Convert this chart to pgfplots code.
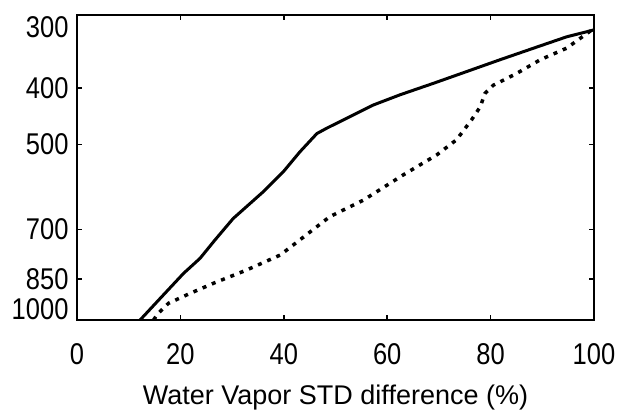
\documentclass[border=0pt]{standalone}
\usepackage{fontspec}
\setmainfont{Liberation Sans}
\newfontfamily\tickfont{Liberation Sans}[FakeStretch=0.85]
\usepackage{pgfplots}
\pgfplotsset{compat=1.18}
\begin{document}
\begin{tikzpicture}
\useasboundingbox (-77pt,-91pt) rectangle (542pt,320pt);
\begin{axis}[
  at={(0,0)}, anchor=south west,
  scale only axis, width=517pt, height=305pt,
  xmin=0, xmax=100, ymin=300, ymax=1000,
  ymode=log, y dir=reverse,
  xtick={0,20,40,60,80,100},
  /pgf/number format/assume math mode=true,
  ytick={300,400,500,700,850,1000},
  yticklabels={\raisebox{-22.7pt}[0pt][0pt]{300},400,500,700,850,\raisebox{0.3pt}[0pt][0pt]{1000}},
  yminorticks=false, minor tick num=0,
  tick align=inside, xtick pos=both, ytick pos=both,
  major tick length=5pt,
  axis line style={line width=2pt},
  every tick/.style={black, line width=1.6pt},
  tick label style={font=\tickfont\fontsize{30}{36}\selectfont},
  xticklabel style={yshift=-20pt},
  yticklabel style={xshift=-5pt},
  xlabel={Water Vapor STD difference (\%)},
  xlabel style={font=\fontsize{27}{32}\selectfont, at={(axis description cs:0.5,0)}, anchor=base, yshift=-84pt},
]
\addplot[black, line width=3pt] coordinates {
(12.2,1000) (16.4,912) (20.6,832) (23.8,784) (26.7,729) (30.2,670) (33.5,631)
(36.0,603) (39.9,557) (43.1,515) (46.4,479) (48.3,469) (52.8,448) (57.3,428)
(62.5,411) (68.9,393) (75.4,375) (81.8,358) (88.3,342) (94.7,327) (99.5,319) (100,318)
};
\addplot[black, line width=3.5pt, dash pattern=on 4pt off 6pt] coordinates {
(14.8,1000) (15.7,974) (17.7,936) (21.9,900) (26.4,865) (32.8,821) (39.3,774)
(43.1,729) (48.9,665) (55.4,623) (63.1,564) (69.6,521) (73.4,491) (76.3,454)
(78.0,431) (78.9,409) (80.5,396) (85.0,378) (89.6,358) (94.7,342) (99.2,320) (100,318)
};
\end{axis}
\end{tikzpicture}
\end{document}
